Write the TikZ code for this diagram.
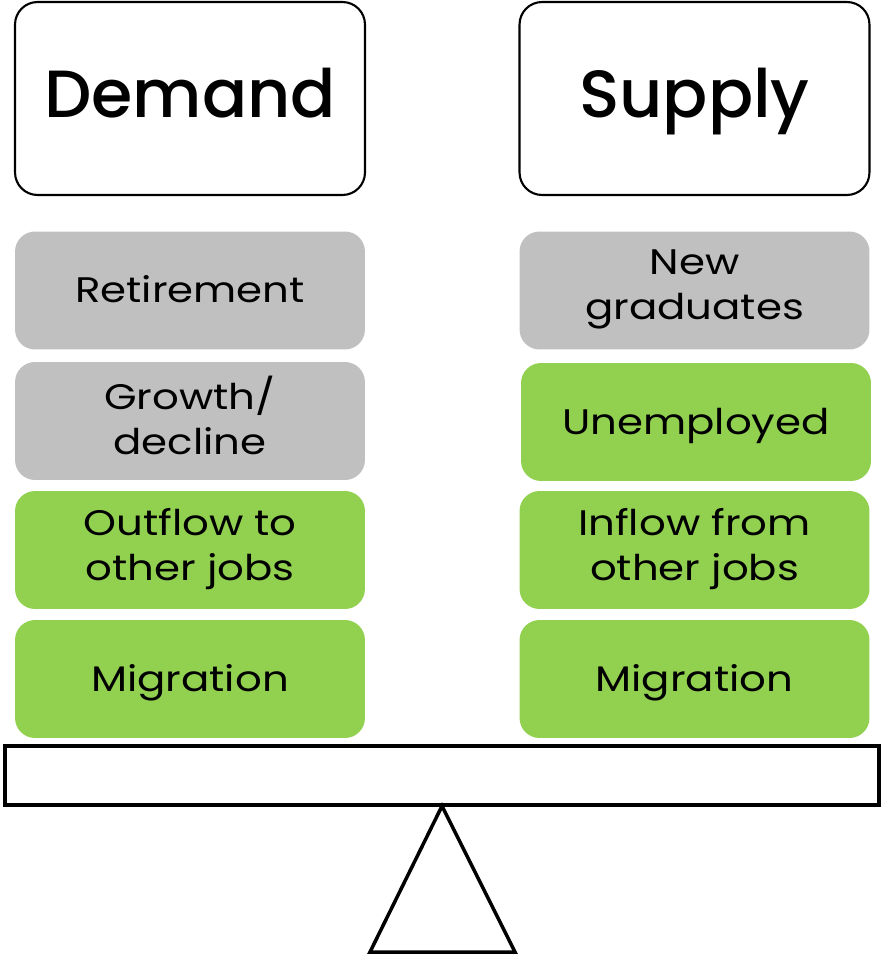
\documentclass[tikz,border=0pt]{standalone}
\usepackage{fontspec}
\setmainfont{Poppins}[FakeStretch=1.18]
\newfontfamily\headfont{Poppins}[UprightFont={* Medium}]
\usepackage{tikz}
\definecolor{ngreen}{RGB}{146, 208, 80}
\definecolor{ngray}{RGB}{192, 192, 192}
\newcommand{\topstrut}[1]{\rule{0pt}{#1}}
\newcommand{\botstrut}[1]{\rule[-#1]{0pt}{#1}}

\begin{document}
\begin{tikzpicture}[x=0.02cm,y=-0.02cm]
    \tikzstyle{every node}=[inner sep=0,outer sep=0,align=center]
    \tikzstyle{head}=[draw,line width=1.2pt,rounded corners=0.45cm,minimum width=7cm,minimum height=3.86cm,font=\headfont\fontsize{38}{44}\selectfont,
        execute at begin node=\topstrut{0.88em},execute at end node=\botstrut{0.3em}]
    \tikzstyle{factor}=[rounded corners=0.4cm,minimum width=7cm,minimum height=2.36cm,font=\fontsize{20.2}{25.5}\selectfont,
        execute at begin node=\topstrut{1em},execute at end node=\botstrut{0.32em}]
    \useasboundingbox (0,0) rectangle (881,956);
    \node[head] (demand) at (190,98.5) {Demand};
    \node[head] (supply) at (694.5,98.5) {Supply};
    % demand side
    \node[factor,fill=ngray] (retire) at (190,290.5) {Retirement};
    \node[factor,fill=ngray] (growth) at (190,421) {Growth/\\decline};
    \node[factor,fill=ngreen] (outflow) at (190,550) {Outflow to\\other jobs};
    \node[factor,fill=ngreen] (dmig) at (190,679) {Migration};
    % supply side
    \node[factor,fill=ngray] (grads) at (694.5,290.5) {New\\graduates};
    \node[factor,fill=ngreen] (unemp) at (696,422) {Unemployed};
    \node[factor,fill=ngreen] (inflow) at (694.5,550) {Inflow from\\other jobs};
    \node[factor,fill=ngreen] (smig) at (694.5,679) {Migration};
    % balance
    \draw[line width=2pt] (5,746) rectangle (879,805);
    \draw[line width=2pt] (442,806) -- (370,952) -- (515,952) -- cycle;
\end{tikzpicture}
\end{document}
